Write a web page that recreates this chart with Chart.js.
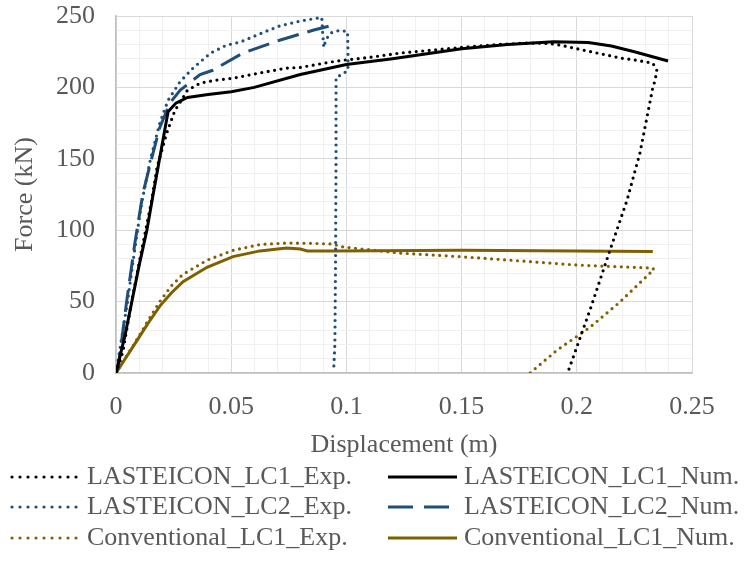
<!DOCTYPE html>
<html lang="en">
<head>
  <meta charset="UTF-8" />
  <title>Force – Displacement</title>
  <script src="https://cdn.jsdelivr.net/npm/chart.js"></script>
  <style>
    body {
      margin: 0;
      padding: 0;
      background: #fff;
    }

    .wrap {
      width: 747px;
      height: 561px;
    }
  </style>
</head>
<body>

  <div class="wrap">
    <canvas id="fdChart" width="747" height="561"></canvas>
  </div>

  <script>
    // displacement (m) / force (kN) pairs
    const lc1ExpX = [0, 0.003, 0.0069, 0.011, 0.0155, 0.0178, 0.022, 0.0256, 0.028, 0.031, 0.0365, 0.043, 0.051, 0.062, 0.074, 0.08, 0.094, 0.0985, 0.11, 0.123, 0.15, 0.165, 0.178, 0.185, 0.19, 0.196, 0.203, 0.212, 0.219, 0.226, 0.233, 0.2347, 0.234, 0.233, 0.2274, 0.2218, 0.2144, 0.2057, 0.196];
    const lc1ExpY = [0, 15, 51, 85, 121, 144, 168, 184, 190, 198, 203, 205, 206.5, 210, 213.5, 214, 218, 219, 221, 224, 228, 230, 231, 231, 230.4, 228.5, 226, 223, 220.5, 219, 217, 212, 205, 200, 154, 121, 86, 44, 0];

    const lc1NumX = [0, 0.004, 0.010, 0.0134, 0.016, 0.0226, 0.026, 0.031, 0.04, 0.05, 0.06, 0.08, 0.10, 0.12, 0.15, 0.17, 0.19, 0.205, 0.215, 0.225, 0.2396];
    const lc1NumY = [0, 27, 75, 100, 124, 183, 189, 193, 195, 197, 200, 209, 216, 220, 227, 230, 232, 231.5, 229, 225, 218.5];

    const lc2ExpX = [0, 0.002, 0.005, 0.008, 0.011, 0.015, 0.019, 0.0226, 0.0278, 0.0334, 0.041, 0.048, 0.054, 0.0655, 0.071, 0.08, 0.0893, 0.0897, 0.0902, 0.091, 0.093, 0.097, 0.1005, 0.1007, 0.1007, 0.098, 0.0955, 0.0955, 0.0953, 0.095, 0.0945];
    const lc2ExpY = [0, 20, 50, 85, 118, 150, 175, 191, 204, 213.5, 224, 229.6, 231.8, 239.5, 243, 246.5, 249, 238, 228, 233, 238, 240, 239, 225, 212, 209, 207, 150, 80, 20, 3];

    const lc2NumX = [0, 0.001, 0.0047, 0.0082, 0.0117, 0.0156, 0.019, 0.0234, 0.0278, 0.0365, 0.042, 0.055, 0.071, 0.0855, 0.094];
    const lc2NumY = [0, 4, 51, 91, 126, 151, 172, 189, 198, 209, 212, 224, 233, 240, 243.5];

    const convExpX = [0, 0.004, 0.0074, 0.0104, 0.014, 0.019, 0.024, 0.029, 0.0395, 0.051, 0.0625, 0.074, 0.085, 0.094, 0.0985, 0.123, 0.15, 0.171, 0.2, 0.2245, 0.233, 0.2335, 0.2318, 0.2187, 0.2057, 0.1914, 0.1797];
    const convExpY = [0, 10.5, 19, 27, 37, 50, 61, 69, 79, 86, 90, 91, 90.8, 90.3, 88.3, 84, 81.4, 79, 75.6, 74, 73.5, 72, 70, 49.7, 32, 16, 0];

    const convNumX = [0, 0.004, 0.0074, 0.0104, 0.014, 0.0191, 0.024, 0.0291, 0.0395, 0.0508, 0.0625, 0.074, 0.08, 0.083, 0.094, 0.15, 0.233];
    const convNumY = [0, 10, 18.5, 26, 35, 47, 56, 64, 74, 81.5, 85.5, 87.5, 86.8, 85.4, 85.5, 86, 85];

    const seriesNames = [
      'LASTEICON_LC1_Exp.', 'LASTEICON_LC1_Num.',
      'LASTEICON_LC2_Exp.', 'LASTEICON_LC2_Num.',
      'Conventional_LC1_Exp.', 'Conventional_LC1_Num.'
    ];

    const xTicks = [0, 0.05, 0.1, 0.15, 0.2, 0.25];
    const yTicks = [0, 50, 100, 150, 200, 250];

    const BLACK = '#000000';
    const BLUE = '#1f4e79';
    const GOLD = '#7f6000';
    const TEXT = '#595959';
    const FONT = "'Liberation Serif', 'Times New Roman', serif";

    const pts = (xs, ys) => xs.map((x, i) => ({ x, y: ys[i] }));
    const isMajor = (v, list) => list.some(t => Math.abs(t - v) < 1e-9);

    const dotted = color => ({
      borderColor: color,
      borderWidth: 3.2,
      borderDash: [0, 6.5],
      borderCapStyle: 'round',
      legendDots: true
    });
    const solid = color => ({
      borderColor: color,
      borderWidth: 3,
      borderDash: [],
      borderCapStyle: 'butt',
      legendDash: []
    });
    const dashed = color => ({
      borderColor: color,
      borderWidth: 3,
      borderDash: [22, 9],
      borderCapStyle: 'butt',
      legendDash: [25, 11]
    });

    const datasets = [
      { label: seriesNames[0], data: pts(lc1ExpX, lc1ExpY), ...dotted(BLACK) },
      { label: seriesNames[1], data: pts(lc1NumX, lc1NumY), ...solid(BLACK) },
      { label: seriesNames[2], data: pts(lc2ExpX, lc2ExpY), ...dotted(BLUE) },
      { label: seriesNames[3], data: pts(lc2NumX, lc2NumY), ...dashed(BLUE) },
      { label: seriesNames[4], data: pts(convExpX, convExpY), ...dotted(GOLD) },
      { label: seriesNames[5], data: pts(convNumX, convNumY), ...solid(GOLD) }
    ].map(d => ({ ...d, showLine: true, pointRadius: 0, tension: 0, fill: false }));

    // two-column legend under the axis title
    const gridLegend = {
      id: 'gridLegend',
      afterDraw(chart) {
        const ctx = chart.ctx;
        const rowsY = [477, 507, 538];
        const cols = [
          { x0: 12, x1: 76, tx: 87 },
          { x0: 388, x1: 457, tx: 464 }
        ];
        ctx.save();
        chart.data.datasets.forEach((ds, i) => {
          const col = cols[i % 2];
          const y = rowsY[Math.floor(i / 2)];
          if (ds.legendDots) {
            ctx.fillStyle = ds.borderColor;
            for (let x = col.x0; x <= col.x1 + 0.5; x += 8) {
              ctx.beginPath();
              ctx.arc(x, y, 1.6, 0, Math.PI * 2);
              ctx.fill();
            }
          } else {
            ctx.beginPath();
            ctx.strokeStyle = ds.borderColor;
            ctx.lineWidth = ds.borderWidth;
            ctx.lineCap = ds.borderCapStyle;
            ctx.setLineDash(ds.legendDash);
            ctx.moveTo(col.x0, y);
            ctx.lineTo(col.x1, y);
            ctx.stroke();
            ctx.setLineDash([]);
          }
          ctx.fillStyle = TEXT;
          ctx.font = `26px ${FONT}`;
          ctx.textBaseline = 'middle';
          ctx.textAlign = 'left';
          ctx.fillText(ds.label, col.tx, y);
        });
        ctx.restore();
      }
    };

    new Chart(document.getElementById('fdChart'), {
      type: 'scatter',
      data: { datasets },
      plugins: [gridLegend],
      options: {
        responsive: false,
        devicePixelRatio: 1,
        animation: false,
        layout: {
          padding: { top: 16, right: 55, bottom: 100, left: 0 }
        },
        plugins: {
          legend: { display: false },
          tooltip: { enabled: false }
        },
        scales: {
          x: {
            type: 'linear',
            min: 0,
            max: 0.25,
            afterFit(scale) { scale.height = 88; },
            ticks: {
              stepSize: 0.01,
              autoSkip: false,
              maxRotation: 0,
              padding: 19,
              color: TEXT,
              font: { family: FONT, size: 26 },
              callback: v => isMajor(v, xTicks) ? String(parseFloat(v.toFixed(2))) : ''
            },
            grid: {
              drawTicks: false,
              lineWidth: 1,
              color: c => isMajor(c.tick.value, xTicks) ? '#d9d9d9' : '#f0f0f0'
            },
            border: { color: '#bfbfbf', width: 1.5 },
            title: {
              display: true,
              text: 'Displacement (m)',
              color: TEXT,
              font: { family: FONT, size: 26 },
              padding: { top: 0, bottom: 0 }
            }
          },
          y: {
            min: 0,
            max: 250,
            afterFit(scale) { scale.width = 116; },
            ticks: {
              stepSize: 10,
              autoSkip: false,
              padding: 0,
              color: TEXT,
              font: { family: FONT, size: 26 },
              callback: v => isMajor(v, yTicks) ? String(v) : ''
            },
            grid: {
              drawTicks: true,
              tickLength: 21,
              tickColor: 'rgba(0,0,0,0)',
              lineWidth: 1,
              color: c => isMajor(c.tick.value, yTicks) ? '#d9d9d9' : '#f0f0f0'
            },
            border: { color: '#bfbfbf', width: 1.5 },
            title: {
              display: true,
              text: 'Force (kN)',
              color: TEXT,
              font: { family: FONT, size: 26 },
              padding: { top: 10, bottom: 0 }
            }
          }
        }
      }
    });
  </script>
</body>
</html>
